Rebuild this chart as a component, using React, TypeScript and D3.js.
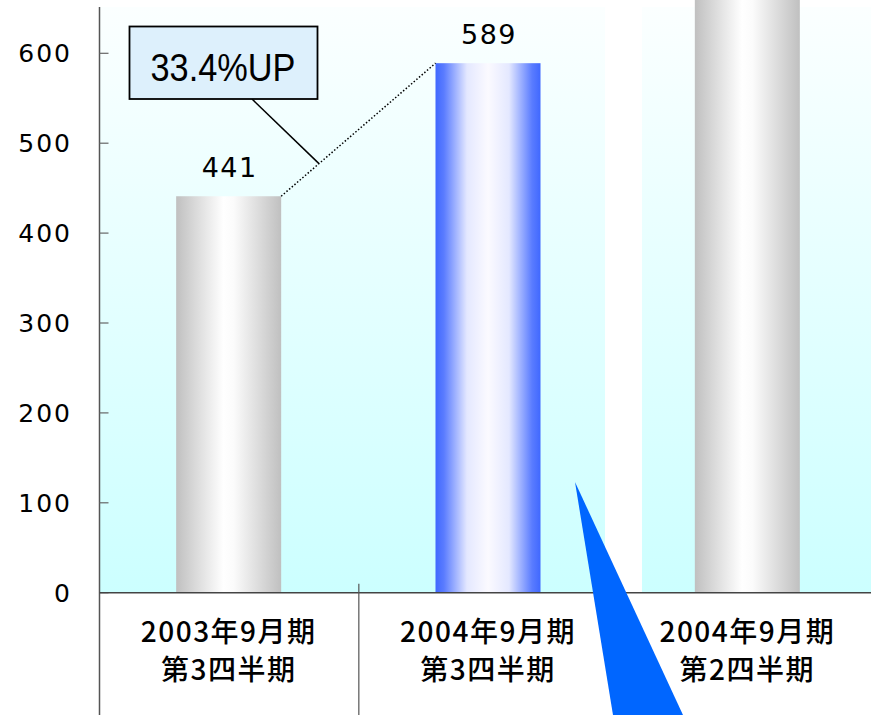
import React from "react";
import * as d3 from "d3";

const categories: string[][] = [
  ["2003年9月期", "第3四半期"],
  ["2004年9月期", "第3四半期"],
  ["2004年9月期", "第2四半期"],
];
const values: number[] = [441, 589, 700];
const valueLabels: (string | null)[] = ["441", "589", null];
const barStyles: string[] = ["gray", "blue", "gray"];
const yTicks: number[] = [0, 100, 200, 300, 400, 500, 600];
const growthLabel = "33.4%UP";

const W = 871;
const H = 715;
const axisX = 99.5;
const baseY = 592.7;
const barW = 105;

export default function App() {
  const y = d3.scaleLinear().domain([0, 600]).range([baseY, 53.3]);
  const keys = categories.map((_, i) => String(i));
  const x = d3.scalePoint<string>().domain(keys).range([99, 877]).padding(0.5);
  const step = x.step();

  const b1 = { x: x("0")! + barW / 2, y: y(values[0]) };
  const b2 = { x: x("1")! - barW / 2, y: y(values[1]) };
  const t = 0.245;
  const mid = { x: b1.x + (b2.x - b1.x) * t, y: b1.y + (b2.y - b1.y) * t };

  const jp = "'Noto Sans CJK JP', 'Noto Sans', sans-serif";
  const num = "'DejaVu Sans', sans-serif";

  return (
    <svg
      width={W}
      height={H}
      style={{ position: "absolute", left: 0, top: 0, background: "#ffffff" }}
    >
      <defs>
        <linearGradient id="bg" x1="0" y1="0" x2="0" y2="1">
          <stop offset="0" stopColor="#fbffff" />
          <stop offset="1" stopColor="#ccffff" />
        </linearGradient>
        <linearGradient id="gray" x1="0" y1="0" x2="1" y2="0">
          <stop offset="0" stopColor="#c0c0c0" />
          <stop offset="0.45" stopColor="#ffffff" />
          <stop offset="0.55" stopColor="#fbfbfb" />
          <stop offset="1" stopColor="#c0c0c0" />
        </linearGradient>
        <linearGradient id="blue" x1="0" y1="0" x2="1" y2="0">
          <stop offset="0" stopColor="#4068ff" />
          <stop offset="0.08" stopColor="#5a7cff" />
          <stop offset="0.3" stopColor="#e4e8ff" />
          <stop offset="0.5" stopColor="#fbfaff" />
          <stop offset="0.7" stopColor="#e4e8ff" />
          <stop offset="0.92" stopColor="#5a7cff" />
          <stop offset="1" stopColor="#4068ff" />
        </linearGradient>
      </defs>

      {/* plot background */}
      <rect x={axisX} y={7} width={W - axisX} height={baseY - 7} fill="url(#bg)" />

      {/* bars */}
      {values.map((v, i) => (
        <rect
          key={i}
          x={x(String(i))! - barW / 2}
          y={y(v)}
          width={barW}
          height={baseY - y(v)}
          fill={`url(#${barStyles[i]})`}
        />
      ))}

      {/* white gap between panels */}
      <rect x={605} y={0} width={37} height={baseY} fill="#ffffff" />

      {/* value labels */}
      {values.map((v, i) =>
        valueLabels[i] ? (
          <text
            key={i}
            x={x(String(i))! + 1}
            y={y(v) - 19}
            textAnchor="middle"
            fontFamily={num}
            fontSize={27}
            letterSpacing={1.5}
            fill="#000"
          >
            {valueLabels[i]}
          </text>
        ) : null
      )}

      {/* y axis */}
      <line x1={axisX} x2={axisX} y1={7} y2={H} stroke="#555" strokeWidth={1.5} />
      {yTicks.map((tk) => (
        <g key={tk}>
          <line x1={axisX} x2={axisX + 9} y1={y(tk)} y2={y(tk)} stroke="#666" strokeWidth={1.2} />
          <text
            x={72}
            y={y(tk) + 9}
            textAnchor="end"
            fontFamily={num}
            fontSize={25}
            letterSpacing={2}
            fill="#000"
          >
            {tk}
          </text>
        </g>
      ))}

      {/* x axis */}
      <line x1={axisX} x2={W} y1={baseY} y2={baseY} stroke="#444" strokeWidth={1.5} />
      <line
        x1={axisX + step}
        x2={axisX + step}
        y1={baseY - 9}
        y2={H}
        stroke="#555"
        strokeWidth={1.2}
      />

      {/* category labels */}
      {categories.map((lines, i) => (
        <text
          key={i}
          x={x(String(i))!}
          textAnchor="middle"
          fontFamily={jp}
          fontSize={28}
          fontWeight={500}
          letterSpacing={1.5}
          fill="#000"
        >
          <tspan x={x(String(i))!} y={642}>
            {lines[0]}
          </tspan>
          <tspan x={x(String(i))!} y={680}>
            {lines[1]}
          </tspan>
        </text>
      ))}

      {/* growth annotation */}
      <line
        x1={b1.x}
        y1={b1.y}
        x2={b2.x}
        y2={b2.y}
        stroke="#000"
        strokeWidth={1.5}
        strokeDasharray="1.5,2"
      />
      <line x1={252} y1={99} x2={mid.x} y2={mid.y} stroke="#000" strokeWidth={1.5} />
      <rect x={129.5} y={26.5} width={188} height={72.5} fill="#ddf0fc" stroke="#000" strokeWidth={1.8} />
      <text
        x={223}
        y={81}
        textAnchor="middle"
        fontFamily="'Liberation Sans', Arial, sans-serif"
        fontSize={38}
        textLength={145}
        lengthAdjust="spacingAndGlyphs"
        fill="#000"
      >
        {growthLabel}
      </text>

      {/* blue pointer */}
      <polygon points="575,482 613,715 683,715" fill="#0066ff" />
    </svg>
  );
}
